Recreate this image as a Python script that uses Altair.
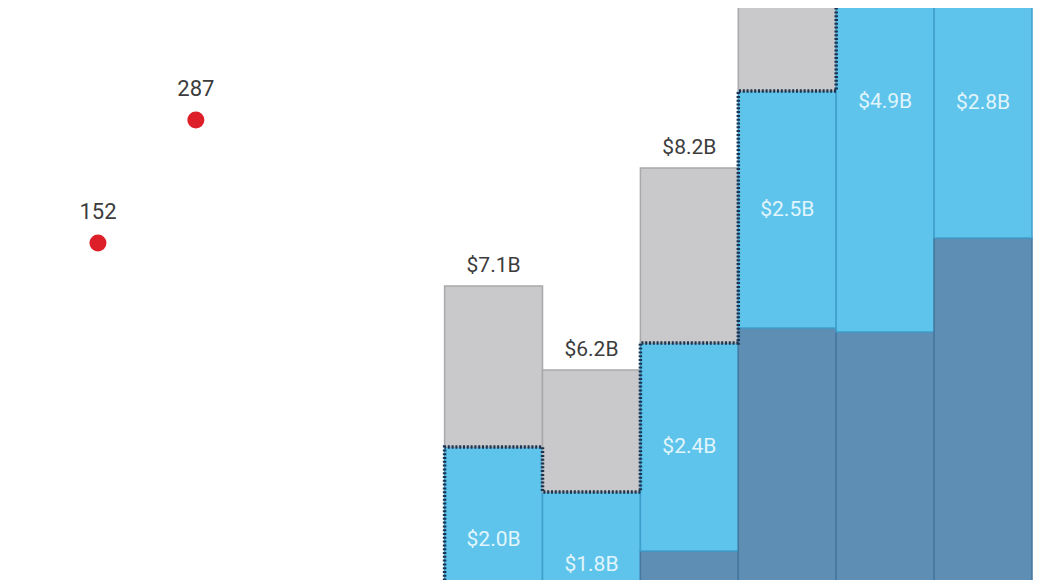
import altair as alt
import pandas as pd

# ---- data ----
categories = ["2008", "2009", "2010", "2011", "2012", "2013", "2014", "2015", "2016", "2017"]

point_cats = ["2008", "2009"]
point_values = [152, 287]

bar_cats = ["2012", "2013", "2014", "2015", "2016", "2017"]
dark_vals = [3.58, 3.53, 4.40, 6.63, 6.59, 7.53]     # $B, bottom segment
light_vals = [1.86, 1.46, 2.08, 2.37, 4.60, 2.70]    # $B, middle segment
gray_vals = [1.61, 1.22, 1.75, 1.40, 0.0, 0.0]       # $B, top segment
light_labels = ["$2.0B", "$1.8B", "$2.4B", "$2.5B", "$4.9B", "$2.8B"]
total_labels = ["$7.1B", "$6.2B", "$8.2B", None, None, None]

# ---- tables ----
rows = []
for c, d, l, g in zip(bar_cats, dark_vals, light_vals, gray_vals):
    rows.append({"cat": c, "seg": "dark", "y0": 0.0, "y1": d})
    rows.append({"cat": c, "seg": "light", "y0": d, "y1": d + l})
    if g > 0:
        rows.append({"cat": c, "seg": "gray", "y0": d + l, "y1": d + l + g})
bars_df = pd.DataFrame(rows)

light_lab_df = pd.DataFrame({
    "cat": bar_cats,
    "y": [d + l / 2 for d, l in zip(dark_vals, light_vals)],
    "text": light_labels,
})
tot_df = pd.DataFrame({
    "cat": bar_cats,
    "y": [d + l + g for d, l, g in zip(dark_vals, light_vals, gray_vals)],
    "text": total_labels,
}).dropna()

light_tops = [d + l for d, l in zip(dark_vals, light_vals)]
step_df = pd.DataFrame({
    "cat": [bar_cats[0]] + bar_cats[:5],
    "y": [0.0] + light_tops[:5],
    "idx": list(range(6)),
})

pts_df = pd.DataFrame({"cat": point_cats, "v": point_values, "text": [str(v) for v in point_values]})

# ---- scales ----
xscale = alt.Scale(domain=categories, range=[45, 1024], paddingInner=0, paddingOuter=0)
yscale = alt.Scale(domain=[4.11, 9.83], zero=False, nice=False)
pscale = alt.Scale(domain=[-218, 410], zero=False, nice=False)

X = alt.X("cat:N", scale=xscale, axis=None)

bars = alt.Chart(bars_df).mark_bar(clip=True, strokeWidth=1.5).encode(
    x=X,
    y=alt.Y("y0:Q", scale=yscale, axis=None),
    y2="y1:Q",
    color=alt.Color("seg:N", legend=None,
                    scale=alt.Scale(domain=["dark", "light", "gray"],
                                    range=["#5e8eb4", "#5ec4eb", "#c9c9cb"])),
    stroke=alt.Stroke("seg:N", legend=None,
                      scale=alt.Scale(domain=["dark", "light", "gray"],
                                      range=["#46779f", "#3f9fcc", "#a9a9ab"])),
)

step = alt.Chart(step_df).mark_line(
    clip=True, interpolate="step-after", color="#1b3552",
    strokeWidth=3.5, strokeDash=[2, 1.8]
).encode(
    x=alt.X("cat:N", scale=xscale, axis=None, bandPosition=0),
    y=alt.Y("y:Q", scale=yscale, axis=None),
    order="idx:Q",
)

light_text = alt.Chart(light_lab_df).mark_text(
    font="Roboto", fontSize=21, color="#e2f5fc", baseline="middle", align="center"
).encode(
    x=X,
    y=alt.Y("y:Q", scale=yscale, axis=None),
    text="text:N",
)

tot_text = alt.Chart(tot_df).mark_text(
    font="Roboto", fontSize=21, color="#3c3c3c", baseline="middle", align="center", dy=-20
).encode(
    x=X,
    y=alt.Y("y:Q", scale=yscale, axis=None),
    text="text:N",
)

bar_layer = alt.layer(bars, step, light_text, tot_text)

pts = alt.Chart(pts_df).mark_circle(size=290, color="#dd1f2a", opacity=1, xOffset=-4).encode(
    x=X,
    y=alt.Y("v:Q", scale=pscale, axis=None),
)
pts_text = alt.Chart(pts_df).mark_text(
    font="Roboto", fontSize=22, color="#3c3c3c", baseline="middle", align="center", dy=-31, dx=-4
).encode(
    x=X,
    y=alt.Y("v:Q", scale=pscale, axis=None),
    text="text:N",
)
pt_layer = alt.layer(pts, pts_text)

chart = alt.layer(bar_layer, pt_layer).resolve_scale(y="independent").properties(
    width=1031, height=572, padding=0,
    autosize=alt.AutoSizeParams(type="none"),
).configure_view(stroke=None)

chart.save("out.html", embed_options={"renderer": "svg", "actions": False})
